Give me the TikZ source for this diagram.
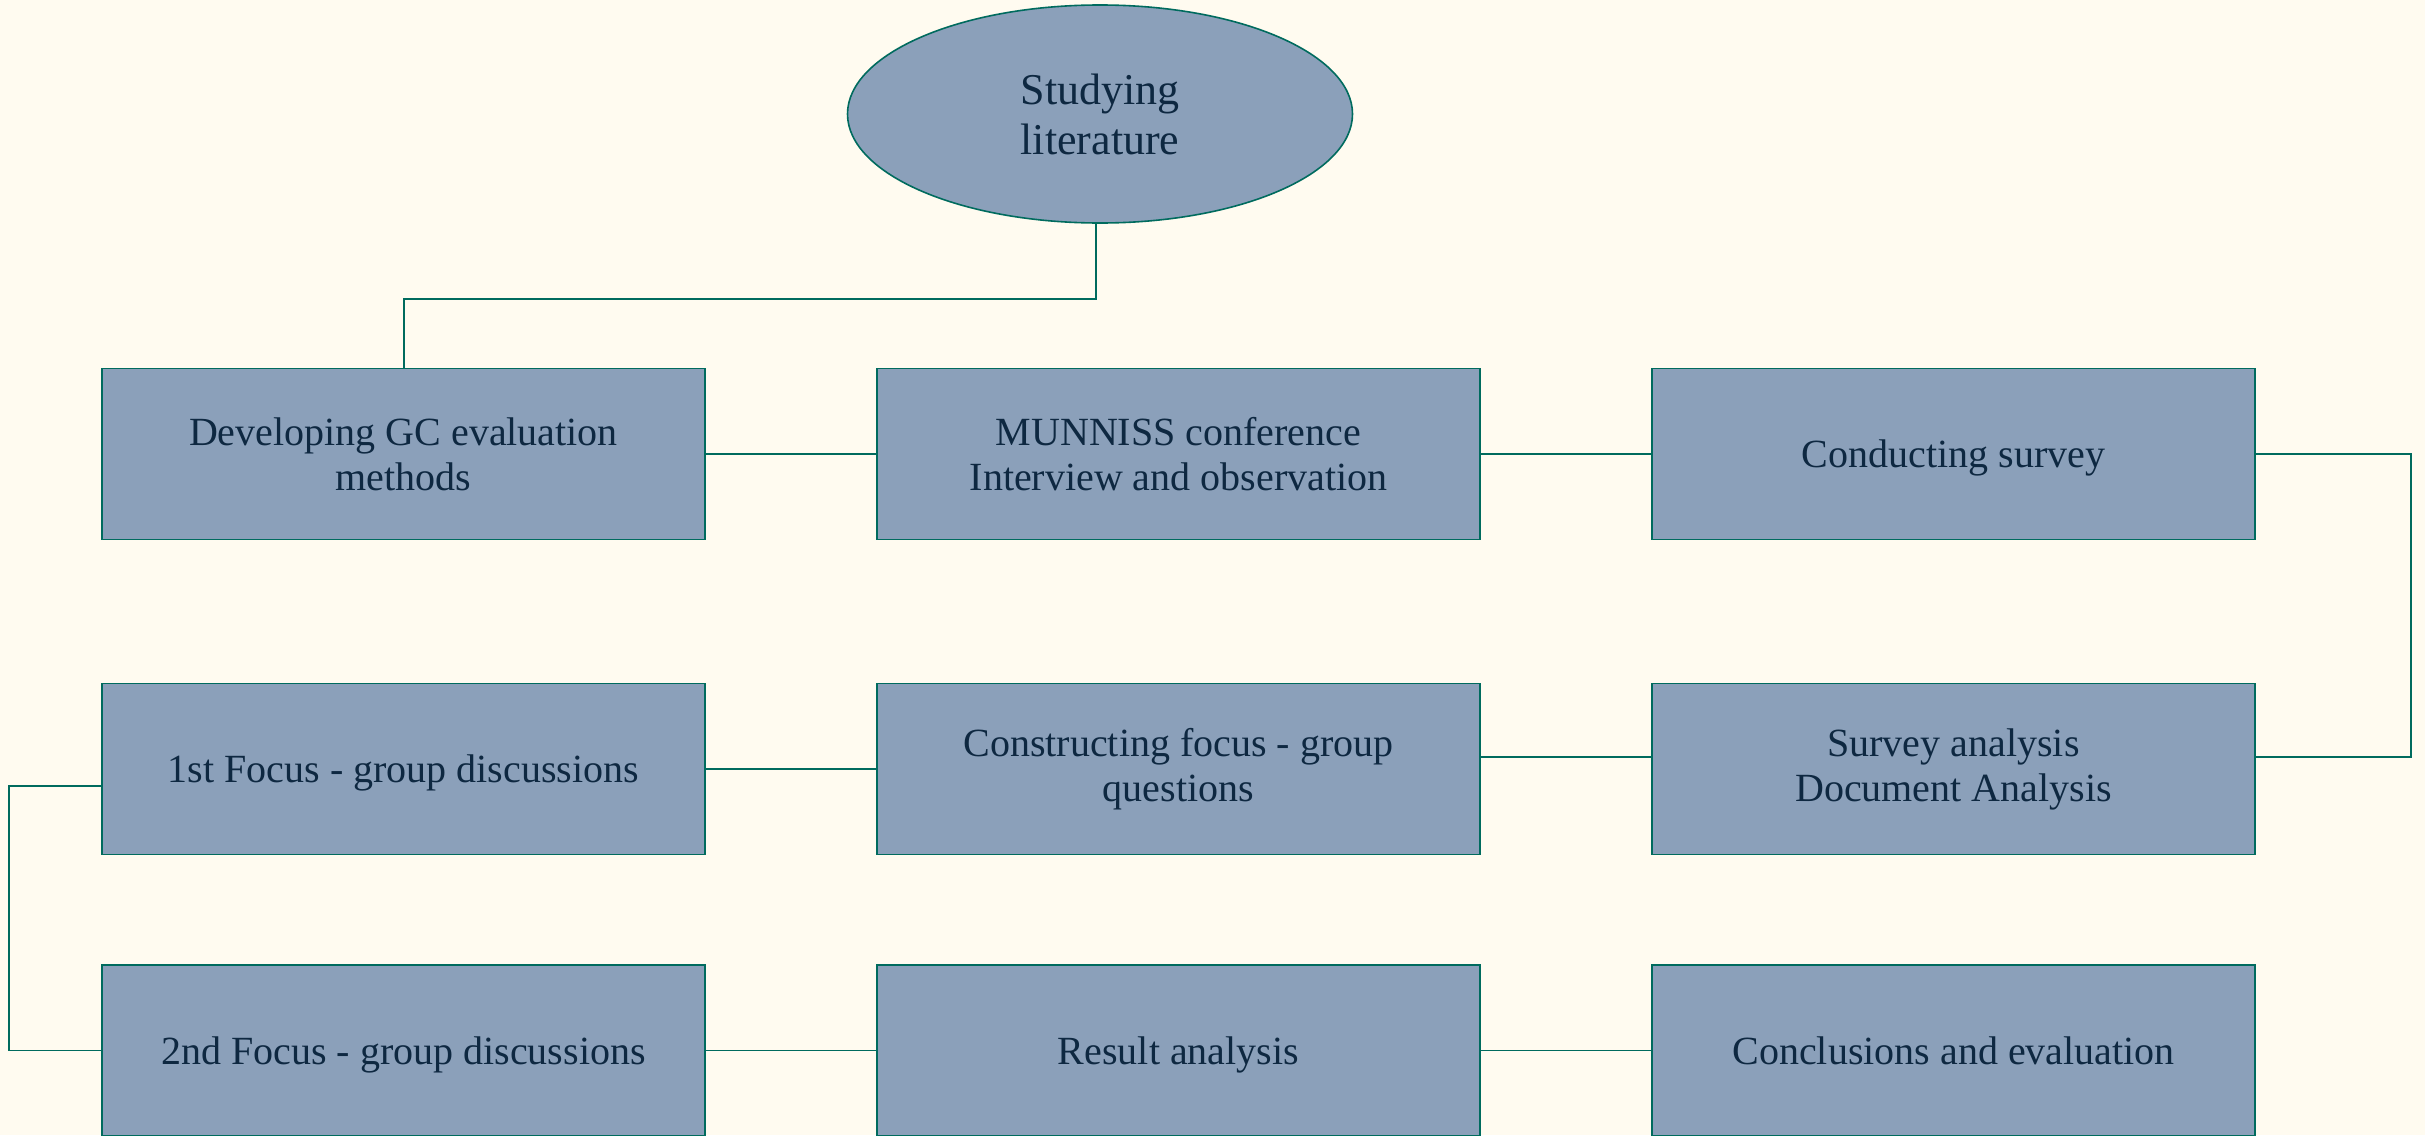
\documentclass[tikz,border=0pt]{standalone}
\usepackage{fontspec}
\setmainfont{Liberation Serif}
\usetikzlibrary{shapes.geometric}
\definecolor{bgc}{HTML}{FFFBF0}
\definecolor{boxfill}{HTML}{8BA0BA}
\definecolor{edgec}{HTML}{006B5E}
\definecolor{txt}{HTML}{0E2841}
\tikzset{
  stepbox/.style={draw=edgec, line width=1.6pt, fill=boxfill, rectangle,
    minimum width=603pt, minimum height=171pt, inner sep=0pt, align=center,
    text=txt, font=\fontsize{40}{45}\selectfont},
  oneline/.style={stepbox, text height=27pt, text depth=0pt},
  ovalbox/.style={draw=edgec, line width=1.6pt, fill=boxfill, ellipse,
    minimum width=505pt, minimum height=218pt, inner sep=0pt, align=center,
    text=txt, font=\fontsize{44}{50}\selectfont},
  link/.style={draw=edgec, line width=1.6pt}
}
\begin{document}
\begin{tikzpicture}[x=1pt,y=-1pt]
\fill[bgc] (0,0) rectangle (2425,1135);
\useasboundingbox (0,0) rectangle (2425,1135);
\node[ovalbox] (lit) at (1100,114) {Studying\\literature};
\node[stepbox] (b1) at (403.5,454) {Developing GC evaluation\\methods};
\node[stepbox] (b2) at (1178.5,454) {MUNNISS conference\\Interview and observation};
\node[oneline] (b3) at (1953.5,454) {Conducting survey};
\node[oneline] (b4) at (403.5,769) {1st Focus - group discussions};
\node[stepbox] (b5) at (1178.5,769) {Constructing focus - group\\questions};
\node[stepbox] (b6) at (1953.5,769) {Survey analysis\\Document Analysis};
\node[oneline] (b7) at (403.5,1050.5) {2nd Focus - group discussions};
\node[oneline] (b8) at (1178.5,1050.5) {Result analysis};
\node[oneline] (b9) at (1953.5,1050.5) {Conclusions and evaluation};
\coordinate (t1) at (1096,299);
\coordinate (t2) at (404,299);
\draw[link] (lit.south -| t1) -- (t1) -- (t2) -- (t2 |- b1.north);
\draw[link] (b1.east) -- (b2.west);
\draw[link] (b2.east) -- (b3.west);
\coordinate (r1) at (2411,454);
\coordinate (r2) at (2411,757);
\draw[link] (b3.east) -- (r1) -- (r2) -- (r2 -| b6.east);
\draw[link] (b6.west |- r2) -- (b5.east |- r2);
\draw[link] (b5.west) -- (b4.east);
\coordinate (l1) at (9,786);
\coordinate (l2) at (9,1050.5);
\draw[link] (l1 -| b4.west) -- (l1) -- (l2) -- (b7.west);
\draw[link] (b7.east) -- (b8.west);
\draw[link] (b8.east) -- (b9.west);
\end{tikzpicture}
\end{document}
